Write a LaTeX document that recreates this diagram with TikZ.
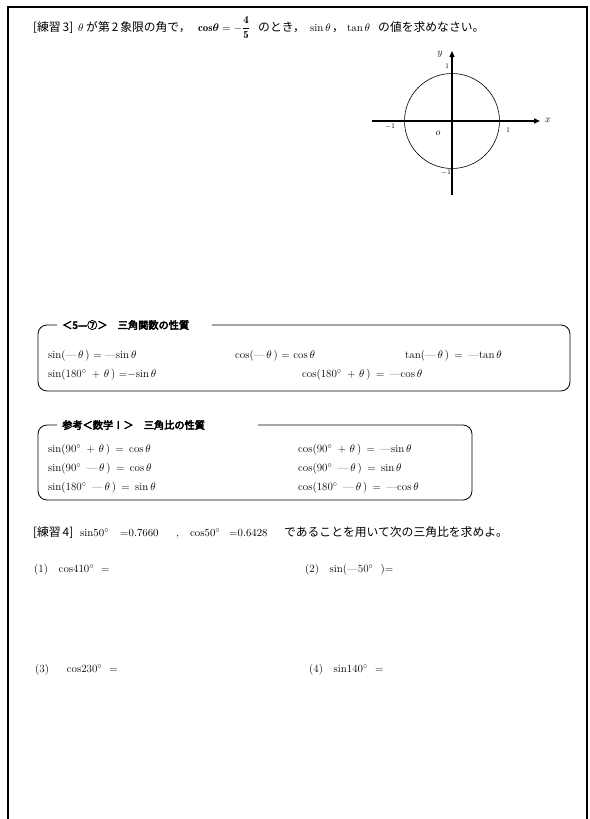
\documentclass[tikz,border=0pt]{standalone}
\usepackage{fontspec}
\usepackage{amsmath}
\usepackage{amsbsy}
\usetikzlibrary{arrows.meta}
\newfontfamily\cjk{Noto Sans CJK JP}
\newfontfamily\cjkb[FakeBold=4]{Noto Sans CJK JP}
\tikzset{
  txt/.style={anchor=base west, inner sep=0pt, font=\fontsize{10.8}{12}\selectfont},
  jtxt/.style={anchor=base west, inner sep=0pt, font=\cjk\fontsize{11.8}{13}\selectfont},
  fml/.style={anchor=base west, inner sep=0pt, font=\fontsize{11}{13}\selectfont},
  head/.style={anchor=west, inner sep=0pt, font=\cjkb\fontsize{10.2}{12}\selectfont},
  boxline/.style={line width=0.8pt, rounded corners=9pt},
  axis/.style={line width=1.4pt, -{Triangle[length=6pt,width=5pt]}},
  tick/.style={inner sep=0pt, font=\fontsize{7}{8}\selectfont},
  axlab/.style={inner sep=0pt, font=\fontsize{10}{12}\selectfont}
}
\begin{document}
\begin{tikzpicture}[x=1pt,y=-1pt]
\useasboundingbox (0,0) rectangle (589,819);
% outer frame
\draw[line width=1.8pt] (8,820) -- (8,7) -- (587,7) -- (587,820);

% exercise 3
\node[jtxt] (t1) at (33,31) {[練習\,3]};
\node[txt] (t2) at (78,31) {$\theta$};
\node[jtxt] (t2b) at (86,31) {が第\,2\,象限の角で，};
\node[txt] (t3) at (198,31) {$\mathbf{cos}\boldsymbol{\theta} = -\dfrac{\mathbf{4}}{\mathbf{5}}$};
\node[jtxt] (t4) at (258,31) {のとき，};
\node[txt] (t5) at (310,31) {$\sin\theta$};
\node[jtxt] (t6) at (332,31) {，};
\node[txt] (t7) at (347,31) {$\tan\theta$};
\node[jtxt] (t8) at (378,31) {の値を求めなさい。};

% unit circle
\coordinate (O) at (452,121);
\coordinate (xs) at (372,121);
\coordinate (xe) at (540,121);
\coordinate (ys) at (452,195);
\coordinate (ye) at (452,51);
\draw[line width=0.6pt] (O) circle[radius=47.5];
\draw[axis] (xs) -- (xe);
\draw[axis] (ys) -- (ye);
\node[axlab] (ylab) at (440,54) {$y$};
\node[axlab] (xlab) at (548,120) {$x$};
\node[tick] (t1y) at (447,66) {1};
\node[tick] (tm1x) at (390,127) {$-$1};
\node[axlab] (olab) at (438,133) {$o$};
\node[tick] (t1x) at (508,130) {1};
\node[tick] (tm1y) at (446,173) {$-$1};

% box 1
\draw[boxline] (212,325) -- (570,325) -- (570,391) -- (38,391) -- (38,325) -- (57,325);
\node[head] (h1) at (62,325) {＜5—⑦＞　三角関数の性質};
\node[fml] (a1) at (48,358) {sin(—\,$\theta$\,) = —sin\,$\theta$};
\node[fml] (a2) at (235,358) {cos(—\,$\theta$\,) = cos\,$\theta$};
\node[fml] (a3) at (405,358) {tan(—\,$\theta$\,) \,=\, —tan\,$\theta$};
\node[fml] (a4) at (48,377) {sin(180$^\circ$\, + $\theta$\,) =$-$sin\,$\theta$};
\node[fml] (a5) at (302,377) {cos(180$^\circ$\, + $\theta$\,) \,=\, —cos\,$\theta$};

% box 2
\draw[boxline] (258,425) -- (472,425) -- (472,500) -- (38,500) -- (38,425) -- (57,425);
\node[head] (h2) at (62,425) {参考＜数学Ⅰ＞　三角比の性質};
\node[fml] (b1) at (48,452) {sin(90$^\circ$\, + $\theta$\,) \,=\, cos\,$\theta$};
\node[fml] (b2) at (48,471) {sin(90$^\circ$\, —\,$\theta$\,) \,=\, cos\,$\theta$};
\node[fml] (b3) at (48,490) {sin(180$^\circ$\, —\,$\theta$\,) \,=\, sin\,$\theta$};
\node[fml] (b4) at (298,452) {cos(90$^\circ$\, + $\theta$\,) \,=\, —sin\,$\theta$};
\node[fml] (b5) at (298,471) {cos(90$^\circ$\, —\,$\theta$\,) \,=\, sin\,$\theta$};
\node[fml] (b6) at (298,490) {cos(180$^\circ$\, —\,$\theta$\,) \,=\, —cos\,$\theta$};

% exercise 4
\node[jtxt] (e1) at (33,536) {[練習\,4]};
\node[txt] (e2) at (80,536) {sin50$^\circ$};
\node[txt] (e3) at (120,536) {=0.7660};
\node[txt] (e4) at (176,536) {,};
\node[txt] (e5) at (190,536) {cos50$^\circ$};
\node[txt] (e6) at (229,536) {=0.6428};
\node[jtxt] (e7) at (284,536) {であることを用いて次の三角比を求めよ。};
\node[fml] (q1) at (34,572) {(1)\ \ \ cos410$^\circ$\ \ =};
\node[fml] (q2) at (305,572) {(2)\ \ \ sin(—50$^\circ$\ \ )=};
\node[fml] (q3) at (35,672) {(3)\ \ \ \ \ cos230$^\circ$\ \ =};
\node[fml] (q4) at (309,672) {(4)\ \ \ sin140$^\circ$\ \ =};
\end{tikzpicture}
\end{document}
